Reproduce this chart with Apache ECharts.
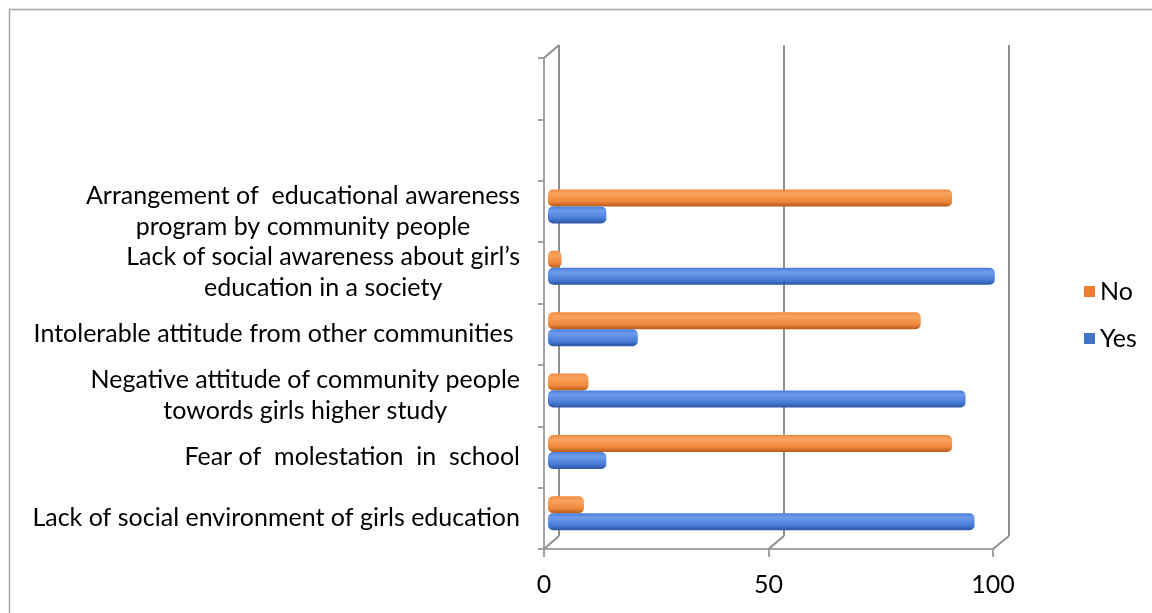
<!DOCTYPE html>
<html>
<head>
<meta charset="utf-8">
<script src="https://cdn.jsdelivr.net/npm/echarts@6/dist/echarts.min.js"></script>
<style>
  html, body { margin: 0; padding: 0; background: #fff; }
  #chart { width: 1152px; height: 613px; }
</style>
</head>
<body>
<div id="chart"></div>
<script>
// Categories, bottom to top; the two top slots are left empty.
const categories = [
  'Lack of social environment of girls education',
  'Fear of  molestation  in  school',
  'Negative attitude of community people\ntowords girls higher study',
  'Intolerable attitude from other communities ',
  'Lack of social awareness about girl\u2019s\neducation in a society',
  'Arrangement of  educational awareness\nprogram by community people',
  '',
  ''
];
const yesValues = [95, 13, 93, 20, 99.5, 13, null, null];
const noValues = [8, 90, 9, 83, 3, 90, null, null];
const seriesNames = ['No', 'Yes'];
const xTicks = [0, 50, 100];

const FONT = 'Lato';
const AXIS_GREY = '#a3a3a3';
const WALL_GREY = '#8f8f8f';

// Front frame (axes), bar area, and back wall of the pseudo-3D box.
const front = { left: 544, top: 58, width: 449, height: 491 };
const depth = { dx: 15, dy: -13 };
const bars = { left: 548, top: 53, width: 449, height: 491 };
const wall = { left: front.left + depth.dx, top: front.top + depth.dy, width: 450, height: 491 };

function cylinder(light, mid, dark) {
  return new echarts.graphic.LinearGradient(0, 0, 0, 1, [
    { offset: 0, color: mid },
    { offset: 0.25, color: light },
    { offset: 0.7, color: mid },
    { offset: 1, color: dark }
  ]);
}

const chart = echarts.init(document.getElementById('chart'), null, { renderer: 'canvas' });

const option = {
  animation: false,
  backgroundColor: '#fff',
  grid: [
    { left: front.left, top: front.top, width: front.width, height: front.height, containLabel: false },
    { left: bars.left, top: bars.top, width: bars.width, height: bars.height, containLabel: false },
    { left: wall.left, top: wall.top, width: wall.width, height: wall.height, containLabel: false }
  ],
  xAxis: [
    {
      gridIndex: 0, type: 'value', min: xTicks[0], max: xTicks[xTicks.length - 1], interval: 50,
      axisLine: { show: true, lineStyle: { color: AXIS_GREY, width: 2 } },
      axisTick: { show: true, length: 8, lineStyle: { color: AXIS_GREY, width: 2 } },
      splitLine: { show: false },
      axisLabel: { color: '#000', fontFamily: FONT, fontSize: 25, margin: 23 }
    },
    {
      gridIndex: 1, type: 'value', min: 0, max: 100, show: false
    },
    {
      gridIndex: 2, type: 'value', min: 0, max: 100, interval: 50,
      axisLine: { show: false }, axisTick: { show: false }, axisLabel: { show: false },
      splitLine: { show: true, lineStyle: { color: WALL_GREY, width: 2 } }
    }
  ],
  yAxis: [
    {
      gridIndex: 0, type: 'category', data: categories,
      axisLine: { show: true, lineStyle: { color: AXIS_GREY, width: 2 } },
      axisTick: { show: true, length: 6, alignWithLabel: false, lineStyle: { color: AXIS_GREY, width: 2 } },
      splitLine: { show: false },
      axisLabel: {
        margin: 24,
        interval: 0,
        formatter: function (v) {
          if (!v) return '';
          return v.split('\n').map(function (line) { return '{c|' + line + '}'; }).join('\n');
        },
        rich: {
          c: { align: 'center', color: '#000', fontFamily: FONT, fontSize: 25, lineHeight: 31 }
        }
      }
    },
    {
      gridIndex: 1, type: 'category', data: categories, show: false
    },
    {
      gridIndex: 2, type: 'category', data: categories, show: false
    }
  ],
  legend: {
    orient: 'vertical',
    left: 1079,
    top: 274,
    itemWidth: 11,
    itemHeight: 11,
    itemGap: 22,
    icon: 'rect',
    textStyle: { color: '#000', fontFamily: FONT, fontSize: 25 },
    data: [
      { name: 'No', itemStyle: { color: '#ED7D31' } },
      { name: 'Yes', itemStyle: { color: '#4472C4' } }
    ]
  },
  series: [
    {
      name: seriesNames[0], type: 'bar', xAxisIndex: 1, yAxisIndex: 1,
      data: noValues, barWidth: 17, barGap: '0%',
      itemStyle: {
        color: cylinder('#F9A45F', '#F08A3B', '#B65A1C'),
        borderRadius: 5
      }
    },
    {
      name: seriesNames[1], type: 'bar', xAxisIndex: 1, yAxisIndex: 1,
      data: yesValues, barWidth: 17, barGap: '0%',
      itemStyle: {
        color: cylinder('#6E9BEA', '#4A7DD8', '#2C549E'),
        borderRadius: 5
      }
    }
  ]
};

chart.setOption(option);

// Depth edges joining the front axes to the back wall, plus the outer frame.
function buildFrame() {
  const g = [];
  const line = (x1, y1, x2, y2, color) => ({
    type: 'line', silent: true, z: 5,
    shape: { x1: x1, y1: y1, x2: x2, y2: y2 },
    style: { stroke: color, lineWidth: 2 }
  });
  const yBottom = front.top + front.height;
  xTicks.forEach(function (t) {
    const xf = chart.convertToPixel({ xAxisIndex: 0 }, t);
    const xb = chart.convertToPixel({ xAxisIndex: 2 }, t);
    g.push(line(xf, yBottom, xb, yBottom + depth.dy, WALL_GREY));
  });
  const x0f = chart.convertToPixel({ xAxisIndex: 0 }, 0);
  const x0b = chart.convertToPixel({ xAxisIndex: 2 }, 0);
  g.push(line(x0f, front.top, x0b, front.top + depth.dy, WALL_GREY));
  g.push({
    type: 'rect', silent: true, z: 0,
    shape: { x: 9.5, y: 9.5, width: 1300, height: 800 },
    style: { fill: null, stroke: '#a6a6a6', lineWidth: 1.5 }
  });
  chart.setOption({ graphic: g });
}
buildFrame();
</script>
</body>
</html>
